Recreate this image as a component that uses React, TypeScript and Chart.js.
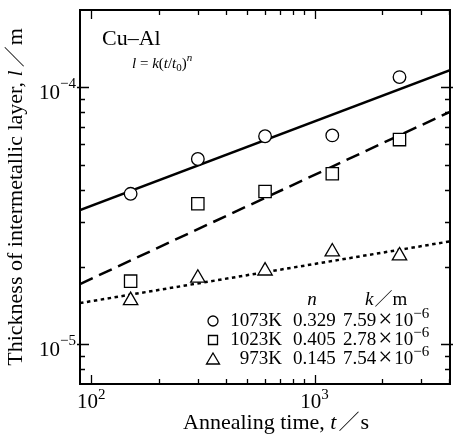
import React, { useEffect, useRef } from "react";
import { Chart, registerables } from "chart.js";
Chart.register(...registerables);

// ---- data ----
const times = [150, 300, 600, 1200, 2400];
const l1073 = [3.85e-5, 5.26e-5, 6.45e-5, 6.5e-5, 1.096e-4];
const l1023 = [1.76e-5, 3.52e-5, 3.93e-5, 4.61e-5, 6.26e-5];
const l973 = [1.48e-5, 1.81e-5, 1.93e-5, 2.29e-5, 2.21e-5];

const fitT = [89, 4040];
const fit1073 = [3.33e-5, 1.166e-4];
const fit1023 = [1.715e-5, 8.03e-5];
const fit973 = [1.446e-5, 2.514e-5];

const xMajor = [100, 1000];
const xMajorExp = ["2", "3"];
const xMinor = [200, 300, 400, 500, 600, 700, 800, 900, 2000, 3000, 4000];
const yMajor = [1e-5, 1e-4];
const yMajorExp = ["\u22125", "\u22124"];
const yMinor = [8e-6, 9e-6, 2e-5, 3e-5, 4e-5, 5e-5, 6e-5, 7e-5, 8e-5, 9e-5];

const legendTemps = ["1073K", "1023K", "973K"];
const legendN = ["0.329", "0.405", "0.145"];
const legendK = ["7.59", "2.78", "7.54"];
const legendKExp = "\u22126";
const legendMarkers = ["circle", "rect", "triangle"];

const SERIF = "'Liberation Serif', 'DejaVu Serif', serif";
const CJK = "'Noto Sans CJK JP', 'Noto Sans CJK SC', sans-serif";

type Run = { t: string; f: string; dy?: number; dx?: number };

function runsWidth(ctx: CanvasRenderingContext2D, runs: Run[]) {
  let w = 0;
  for (const r of runs) {
    ctx.font = r.f;
    w += (r.dx || 0) + ctx.measureText(r.t).width;
  }
  return w;
}

function drawRuns(
  ctx: CanvasRenderingContext2D,
  runs: Run[],
  x: number,
  y: number,
  align: "left" | "center" | "right"
) {
  const w = runsWidth(ctx, runs);
  let cx = align === "left" ? x : align === "center" ? x - w / 2 : x - w;
  ctx.textAlign = "left";
  ctx.textBaseline = "alphabetic";
  for (const r of runs) {
    ctx.font = r.f;
    cx += r.dx || 0;
    ctx.fillText(r.t, cx, y + (r.dy || 0));
    cx += ctx.measureText(r.t).width;
  }
}

function drawMarker(ctx: CanvasRenderingContext2D, kind: string, x: number, y: number) {
  ctx.beginPath();
  if (kind === "circle") {
    ctx.arc(x, y, 5, 0, Math.PI * 2);
  } else if (kind === "rect") {
    ctx.rect(x - 4.5, y - 4.5, 9, 9);
  } else {
    ctx.moveTo(x, y - 6);
    ctx.lineTo(x + 6.5, y + 5);
    ctx.lineTo(x - 6.5, y + 5);
    ctx.closePath();
  }
  ctx.fillStyle = "#fff";
  ctx.fill();
  ctx.lineWidth = 1.3;
  ctx.strokeStyle = "#000";
  ctx.stroke();
}

const decorPlugin = {
  id: "decor",
  afterDraw(chart: any) {
    const ctx: CanvasRenderingContext2D = chart.ctx;
    const { left, right, top, bottom } = chart.chartArea;
    const xs = chart.scales.x;
    const ys = chart.scales.y;
    ctx.save();
    ctx.strokeStyle = "#000";
    ctx.fillStyle = "#000";

    // frame
    ctx.lineWidth = 2;
    ctx.strokeRect(left, top, right - left, bottom - top);

    // ticks (inward on all four sides)
    ctx.lineWidth = 1.3;
    ctx.beginPath();
    const xt = (v: number, len: number, out: number) => {
      const p = Math.round(xs.getPixelForValue(v)) + 0.5;
      ctx.moveTo(p, bottom + out);
      ctx.lineTo(p, bottom - len);
      ctx.moveTo(p, top - out);
      ctx.lineTo(p, top + len);
    };
    const yt = (v: number, len: number, out: number) => {
      const p = Math.round(ys.getPixelForValue(v)) + 0.5;
      ctx.moveTo(left - out, p);
      ctx.lineTo(left + len, p);
      ctx.moveTo(right + out, p);
      ctx.lineTo(right - len, p);
    };
    xMajor.forEach((v) => xt(v, 9, 0));
    xMinor.forEach((v) => xt(v, 5, 0));
    yMajor.forEach((v) => yt(v, 9, 3));
    yMinor.forEach((v) => yt(v, 5, 0));
    ctx.stroke();

    // tick labels
    xMajor.forEach((v, i) => {
      const p = xs.getPixelForValue(v);
      drawRuns(
        ctx,
        [
          { t: "10", f: `21px ${SERIF}` },
          { t: xMajorExp[i], f: `15px ${SERIF}`, dy: -9 },
        ],
        p,
        408,
        "center"
      );
    });
    yMajor.forEach((v, i) => {
      const p = ys.getPixelForValue(v);
      drawRuns(
        ctx,
        [
          { t: "10", f: `21px ${SERIF}` },
          { t: yMajorExp[i], f: `15px ${SERIF}`, dy: -11 },
        ],
        76,
        p + 12,
        "right"
      );
    });

    // axis titles
    drawRuns(
      ctx,
      [
        { t: "Annealing time, ", f: `22px ${SERIF}` },
        { t: "t", f: `italic 22px ${SERIF}` },
        { t: "\uFF0F", f: `21px ${CJK}`, dx: 2 },
        { t: "s", f: `22px ${SERIF}`, dx: 1 },
      ],
      276,
      429,
      "center"
    );
    ctx.save();
    ctx.translate(22, 197);
    ctx.rotate(-Math.PI / 2);
    drawRuns(
      ctx,
      [
        { t: "Thickness of intermetallic layer, ", f: `22px ${SERIF}` },
        { t: "l", f: `italic 22px ${SERIF}` },
        { t: "\uFF0F", f: `21px ${CJK}`, dx: 3 },
        { t: "m", f: `22px ${SERIF}`, dx: 1 },
      ],
      0,
      0,
      "center"
    );
    ctx.restore();

    // annotations
    drawRuns(ctx, [{ t: "Cu\u2013Al", f: `22px ${SERIF}` }], 102, 45, "left");
    drawRuns(
      ctx,
      [
        { t: "l", f: `italic 15px ${SERIF}` },
        { t: " = ", f: `15px ${SERIF}` },
        { t: "k", f: `italic 15px ${SERIF}` },
        { t: "(", f: `15px ${SERIF}` },
        { t: "t", f: `italic 15px ${SERIF}` },
        { t: "/", f: `15px ${SERIF}` },
        { t: "t", f: `italic 15px ${SERIF}` },
        { t: "0", f: `11px ${SERIF}`, dy: 3 },
        { t: ")", f: `15px ${SERIF}` },
        { t: "n", f: `italic 11px ${SERIF}`, dy: -7 },
      ],
      132,
      68,
      "left"
    );

    // legend table
    drawRuns(ctx, [{ t: "n", f: `italic 19px ${SERIF}` }], 312, 305, "center");
    drawRuns(
      ctx,
      [
        { t: "k", f: `italic 19px ${SERIF}` },
        { t: "\uFF0F", f: `18px ${CJK}`, dx: 1 },
        { t: "m", f: `19px ${SERIF}` },
      ],
      365,
      305,
      "left"
    );
    const rowY = [326, 345, 364];
    legendTemps.forEach((temp, i) => {
      const by = rowY[i];
      drawMarker(ctx, legendMarkers[i], 213, by - 5);
      ctx.fillStyle = "#000";
      drawRuns(ctx, [{ t: temp, f: `19px ${SERIF}` }], 282, by, "right");
      drawRuns(ctx, [{ t: legendN[i], f: `19px ${SERIF}` }], 293, by, "left");
      drawRuns(
        ctx,
        [
          { t: legendK[i], f: `19px ${SERIF}` },
          { t: "\u00D7", f: `25px ${SERIF}`, dx: 2, dy: 1 },
          { t: "10", f: `19px ${SERIF}`, dx: 2 },
          { t: legendKExp, f: `15px ${SERIF}`, dy: -8 },
        ],
        343,
        by,
        "left"
      );
    });
    ctx.restore();
  },
};

function pts(xv: number[], yv: number[]) {
  return xv.map((x, i) => ({ x, y: yv[i] }));
}

export default function App() {
  const ref = useRef<HTMLCanvasElement | null>(null);
  useEffect(() => {
    if (!ref.current) return;
    const lineBase = {
      showLine: true,
      pointRadius: 0,
      borderColor: "#000",
      borderWidth: 2.5,
      fill: false,
      order: 2,
    };
    const pointBase = {
      showLine: false,
      backgroundColor: "#fff",
      borderColor: "#000",
      borderWidth: 1.3,
      order: 1,
    };
    const chart = new Chart(ref.current, {
      type: "scatter",
      data: {
        datasets: [
          { ...lineBase, label: "fit 1073K", data: pts(fitT, fit1073) },
          { ...lineBase, label: "fit 1023K", data: pts(fitT, fit1023), borderDash: [14, 7] },
          { ...lineBase, label: "fit 973K", data: pts(fitT, fit973), borderDash: [3.5, 3.5] },
          { ...pointBase, label: "1073K", data: pts(times, l1073), pointStyle: "circle", pointRadius: 6.3 },
          { ...pointBase, label: "1023K", data: pts(times, l1023), pointStyle: "rect", pointRadius: 8.7 },
          { ...pointBase, label: "973K", data: pts(times, l973), pointStyle: "triangle", pointRadius: 8.3 },
        ] as any,
      },
      options: {
        animation: false,
        responsive: false,
        devicePixelRatio: 1,
        layout: { padding: { top: 7, right: 5, left: 0, bottom: 0 } },
        plugins: { legend: { display: false }, tooltip: { enabled: false } },
        scales: {
          x: {
            type: "logarithmic",
            min: 89,
            max: 4040,
            ticks: { display: false },
            grid: { display: false },
            border: { display: false },
            afterFit: (s: any) => {
              s.height = 54;
            },
          },
          y: {
            type: "logarithmic",
            min: 7e-6,
            max: 2e-4,
            ticks: { display: false },
            grid: { display: false },
            border: { display: false },
            afterFit: (s: any) => {
              s.width = 80;
            },
          },
        },
      } as any,
      plugins: [decorPlugin],
    });
    return () => chart.destroy();
  }, []);
  return (
    <div style={{ position: "fixed", left: 0, top: 0, width: 460, height: 438, background: "#fff" }}>
      <canvas ref={ref} width={460} height={438} style={{ display: "block" }} />
    </div>
  );
}
